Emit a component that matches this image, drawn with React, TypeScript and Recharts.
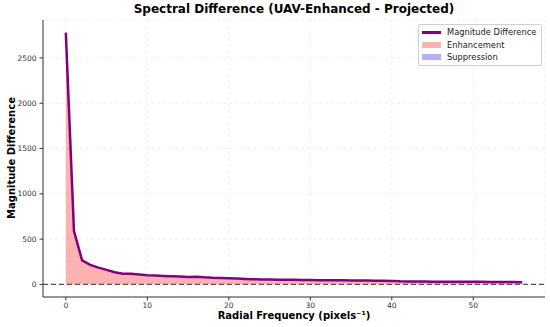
import React from 'react';
import {
  ComposedChart, Line, Area, XAxis, YAxis, CartesianGrid, ReferenceLine,
} from 'recharts';

const freqs = [
  0, 1, 2, 3, 4, 5, 6, 7, 8, 9, 10, 11, 12, 13, 14, 15, 16, 17, 18, 19,
  20, 21, 22, 23, 24, 25, 26, 27, 28, 29, 30, 31, 32, 33, 34, 35, 36, 37, 38, 39,
  40, 41, 42, 43, 44, 45, 46, 47, 48, 49, 50, 51, 52, 53, 54, 55, 56,
];
const magDiff = [
  2780, 590, 265, 215, 185, 160, 135, 118, 117, 110, 100, 98, 94, 90, 87, 83, 84, 78, 74, 72,
  68, 64, 60, 57, 55, 53, 52, 51, 51, 49, 48, 47, 46, 46, 45, 44, 43, 42, 41, 40,
  39, 35, 33, 32, 31, 30, 30, 30, 29, 29, 28, 28, 27, 27, 26, 26, 25,
];
const xTicks = [0, 10, 20, 30, 40, 50];
const yTicks = [0, 500, 1000, 1500, 2000, 2500];

const data = freqs.map((f, i) => ({
  freq: f,
  diff: magDiff[i],
  enh: magDiff[i] > 0 ? magDiff[i] : 0,
}));

const FONT = '"DejaVu Sans", sans-serif';
const SPINE = '#333';

function LegendBox() {
  const row = { display: 'flex', alignItems: 'center', height: 12.5 } as const;
  return (
    <div style={{
      position: 'absolute', top: 24, left: 418, width: 116,
      border: '1px solid #d0d0d0', borderRadius: 2, background: 'rgba(255,255,255,0.8)',
      padding: '1px 3px', fontFamily: FONT, fontSize: 8.3, color: '#222',
    }}>
      <div style={row}>
        <div style={{ width: 19, height: 2.5, background: '#800080', marginRight: 6 }} />
        Magnitude Difference
      </div>
      <div style={row}>
        <div style={{ width: 19, height: 6, background: 'rgba(255,0,0,0.3)', marginRight: 6 }} />
        Enhancement
      </div>
      <div style={row}>
        <div style={{ width: 19, height: 6, background: 'rgba(0,0,255,0.3)', marginRight: 6 }} />
        Suppression
      </div>
    </div>
  );
}

export default function App() {
  return (
    <div style={{ position: 'absolute', left: 0, top: 0, width: 550, height: 327, background: '#fff' }}>
      <ComposedChart
        width={550}
        height={327}
        data={data}
        margin={{ top: 20, right: 5, left: 0, bottom: 0 }}
        style={{ fontFamily: FONT }}
      >
        <CartesianGrid stroke="#efefef" strokeDasharray="3 3" />
        <XAxis
          dataKey="freq"
          type="number"
          domain={[-2.8, 58.8]}
          ticks={xTicks}
          height={30}
          tickSize={3.5}
          tickMargin={2}
          stroke={SPINE}
          tick={{ fontSize: 7.5, fill: '#333' }}
          allowDataOverflow
        />
        <XAxis xAxisId="top" orientation="top" type="number" domain={[-2.8, 58.8]} height={0} tick={false} tickLine={false} stroke={SPINE} />
        <YAxis
          type="number"
          domain={[-139, 2919]}
          ticks={yTicks}
          width={43}
          tickSize={3.5}
          tickMargin={3}
          stroke={SPINE}
          tick={{ fontSize: 7.5, fill: '#333' }}
          allowDataOverflow
        />
        <YAxis yAxisId="right" orientation="right" type="number" domain={[-139, 2919]} width={0} tick={false} tickLine={false} stroke={SPINE} />
        <Area
          dataKey="enh"
          type="linear"
          baseValue={0}
          fill="rgba(255,0,0,0.3)"
          fillOpacity={1}
          stroke="none"
          isAnimationActive={false}
        />
        <ReferenceLine y={0} stroke="#555" strokeDasharray="5 3" strokeWidth={1.2} />
        <Line
          dataKey="diff"
          type="linear"
          stroke="#800080"
          strokeWidth={2.5}
          dot={false}
          isAnimationActive={false}
        />
      </ComposedChart>
      <div style={{
        position: 'absolute', top: 2, left: 43, width: 502, textAlign: 'center',
        fontFamily: FONT, fontWeight: 'bold', fontSize: 12, color: '#000',
      }}>
        Spectral Difference (UAV-Enhanced - Projected)
      </div>
      <div style={{
        position: 'absolute', top: 310, left: 43, width: 502, textAlign: 'center',
        fontFamily: FONT, fontWeight: 'bold', fontSize: 10, color: '#000',
      }}>
        Radial Frequency (pixels⁻¹)
      </div>
      <div style={{
        position: 'absolute', left: 11, top: 158, transform: 'translate(-50%, -50%) rotate(-90deg)',
        whiteSpace: 'nowrap', fontFamily: FONT, fontWeight: 'bold', fontSize: 10, color: '#000',
      }}>
        Magnitude Difference
      </div>
      <LegendBox />
    </div>
  );
}
